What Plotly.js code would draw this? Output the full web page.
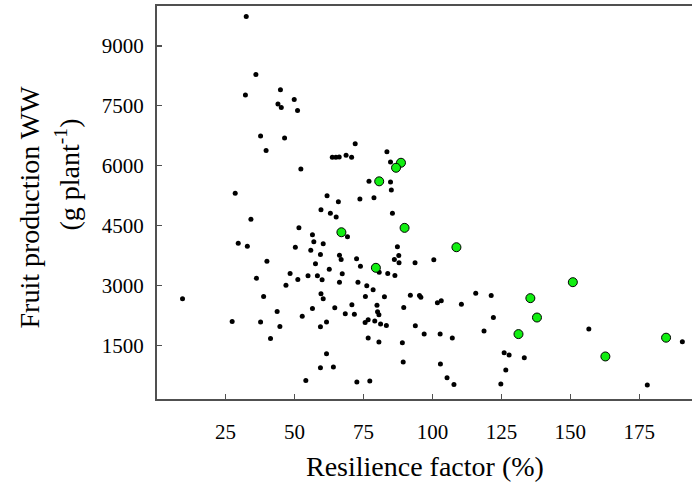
<!DOCTYPE html>
<html>
<head>
<meta charset="utf-8">
<script src="https://cdn.plot.ly/plotly-3.0.1.min.js"></script>
<style>
  html, body { margin: 0; padding: 0; background: #fff; }
  #chart { width: 692px; height: 488px; }
</style>
</head>
<body>
<div id="chart"></div>
<script>
// All genotypes: resilience factor (%) vs fruit production under well-watered conditions
const allResilience = [
  32.5, 36.0, 32.2, 44.9, 49.9, 44.0, 45.2, 51.1, 37.7, 46.4,
  39.7, 52.3, 28.5, 34.2, 59.6, 51.6, 56.5, 57.0, 29.6, 32.9,
  50.3, 55.9, 59.4, 40.0, 57.6, 36.2, 48.4, 51.2, 54.9, 58.3,
  46.9, 9.4, 38.8, 59.6, 43.7, 56.5, 52.8, 27.4, 37.7, 44.7,
  59.4, 41.3, 59.4, 54.1, 72.0, 83.5, 63.7, 65.0, 66.2, 68.7,
  70.7, 84.8, 77.0, 84.8, 85.1, 61.8, 65.9, 73.7, 78.8, 63.0,
  65.1, 85.5, 69.2, 60.4, 87.3, 66.3, 66.9, 72.5, 87.8, 86.2,
  87.9, 93.7, 100.5, 62.6, 73.9, 80.7, 83.8, 86.4, 60.0, 67.3,
  66.3, 73.0, 76.2, 78.5, 60.4, 75.7, 82.6, 92.0, 95.3, 95.8,
  115.7, 121.3, 64.6, 70.8, 79.9, 89.6, 101.8, 103.2, 110.5, 68.4,
  71.7, 80.1, 80.6, 61.6, 75.6, 76.7, 79.1, 81.2, 83.3, 93.8,
  122.1, 118.7, 97.0, 102.8, 107.2, 76.7, 80.6, 89.1, 61.6, 64.1,
  89.4, 102.9, 105.3, 107.8, 72.6, 77.3, 156.7, 126.0, 127.8, 133.3,
  126.6, 124.8, 190.6, 177.9
];
const allFruit = [
  9740, 8285, 7770, 7900, 7660, 7545, 7460, 7385, 6745, 6695,
  6385, 5920, 5310, 4660, 4900, 4450, 4275, 4100, 4060, 3985,
  3960, 3885, 3775, 3610, 3545, 3185, 3300, 3150, 3245, 3245,
  3010, 2670, 2725, 2795, 2350, 2425, 2235, 2100, 2085, 1975,
  1970, 1675, 945, 625, 6550, 6350, 6210, 6210, 6220, 6260,
  6210, 6095, 5610, 5595, 5395, 5250, 5100, 5170, 5200, 4810,
  4720, 4810, 4225, 4050, 3975, 3760, 3650, 3670, 3750, 3650,
  3570, 3570, 3645, 3410, 3485, 3335, 3300, 3250, 3145, 3295,
  3085, 3085, 2995, 2895, 2670, 2725, 2720, 2760, 2750, 2710,
  2810, 2750, 2445, 2520, 2510, 2450, 2570, 2620, 2535, 2295,
  2285, 2345, 2270, 2085, 2075, 2145, 2110, 2035, 2000, 1995,
  2200, 1860, 1785, 1785, 1685, 1685, 1585, 1570, 1295, 960,
  1085, 1035, 695, 520, 585, 610, 1910, 1320, 1260, 1195,
  885, 535, 1595, 510
];

// Highlighted genotypes
const selResilience = [88.6, 86.8, 80.7, 89.9, 67.0, 108.7, 79.5, 150.9, 135.5, 137.9, 131.2, 162.7, 184.7];
const selFruit      = [6075, 5950, 5610, 4445, 4335, 3960, 3445, 3085, 2685, 2200, 1785, 1225, 1695];

const xTicks = [25, 50, 75, 100, 125, 150, 175];
const yTicks = [1500, 3000, 4500, 6000, 7500, 9000];

const xTitle = 'Resilience factor (%)';
const yTitleMain = 'Fruit production WW';
const yTitleUnit = '(g plant<sup>-1</sup>)';

const serif = 'Liberation Serif, Times New Roman, serif';
const axisColor = '#505050';
const titleSize = 28;

const traces = [
  {
    x: allResilience, y: allFruit,
    type: 'scatter', mode: 'markers',
    marker: { color: '#000000', size: 5 },
    hoverinfo: 'x+y'
  },
  {
    x: selResilience, y: selFruit,
    type: 'scatter', mode: 'markers',
    marker: { color: '#11ee11', size: 9, line: { color: '#000000', width: 1 } },
    hoverinfo: 'x+y'
  }
];

// Axis titles are placed by pixel offset from the plot edges
const titleFont = { family: serif, size: titleSize, color: '#000' };
const annotations = [
  {
    text: xTitle, xref: 'paper', yref: 'paper', x: 0.5, y: 0,
    xanchor: 'center', yanchor: 'middle', yshift: -67,
    showarrow: false, font: titleFont
  },
  {
    text: yTitleMain, xref: 'paper', yref: 'paper', x: 0, y: 0.5,
    xanchor: 'center', yanchor: 'middle', xshift: -128, yshift: -5,
    textangle: -90, showarrow: false, font: titleFont
  },
  {
    text: yTitleUnit, xref: 'paper', yref: 'paper', x: 0, y: 0.5,
    xanchor: 'center', yanchor: 'middle', xshift: -89, yshift: 28,
    textangle: -90, showarrow: false, font: titleFont
  }
];

const layout = {
  width: 692, height: 488,
  margin: { l: 157, r: 0, t: 6, b: 89 },
  paper_bgcolor: '#ffffff',
  plot_bgcolor: '#ffffff',
  showlegend: false,
  font: { family: serif, color: '#000000', size: 21 },
  annotations: annotations,
  xaxis: {
    range: [0.15, 194.1],
    tickvals: xTicks,
    ticktext: xTicks.map(String),
    ticks: 'inside', ticklen: 5, tickwidth: 1.2, tickcolor: axisColor,
    ticklabelstandoff: 13,
    showgrid: false, zeroline: false,
    showline: true, linecolor: axisColor, linewidth: 2, mirror: true,
    tickfont: { family: serif, size: 21, color: '#000' }
  },
  yaxis: {
    range: [160, 10000],
    tickvals: yTicks,
    ticktext: yTicks.map(String),
    ticks: 'inside', ticklen: 5, tickwidth: 1.2, tickcolor: axisColor,
    ticklabelstandoff: 7,
    showgrid: false, zeroline: false,
    showline: true, linecolor: axisColor, linewidth: 2,
    tickfont: { family: serif, size: 21, color: '#000' }
  }
};

Plotly.newPlot('chart', traces, layout, { displayModeBar: false, staticPlot: true });
</script>
</body>
</html>
